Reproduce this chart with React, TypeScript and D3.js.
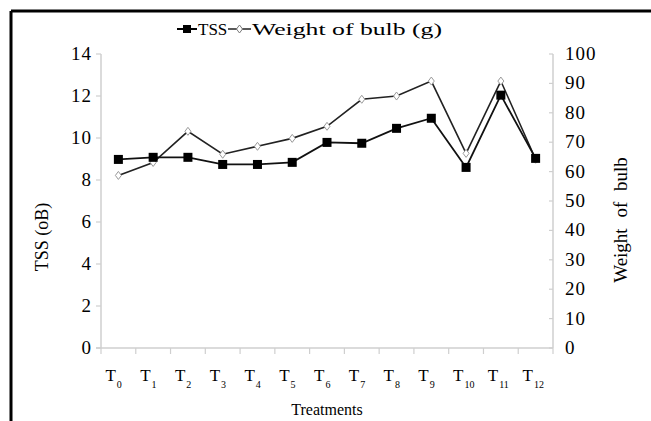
import React from "react";
import * as d3 from "d3";

const categories = ["0", "1", "2", "3", "4", "5", "6", "7", "8", "9", "10", "11", "12"];
const tssValues = [8.98, 9.08, 9.08, 8.74, 8.74, 8.84, 9.79, 9.75, 10.46, 10.94, 8.6, 12.04, 9.03];
const weightValues = [58.7, 63.1, 73.7, 65.9, 68.6, 71.3, 75.4, 84.6, 85.7, 90.8, 66.2, 90.8, 64.2];
const leftTicks = [0, 2, 4, 6, 8, 10, 12, 14];
const rightTicks = [0, 10, 20, 30, 40, 50, 60, 70, 80, 90, 100];

const W = 651;
const H = 421;
const plot = { left: 101, right: 553, top: 54, bottom: 348 };
const FONT = "'Liberation Serif', 'Times New Roman', serif";

export default function App() {
  const x = d3.scaleBand<string>().domain(categories).range([plot.left, plot.right]).padding(0);
  const yL = d3.scaleLinear().domain([0, 14]).range([plot.bottom, plot.top]);
  const yR = d3.scaleLinear().domain([0, 100]).range([plot.bottom, plot.top]);
  const cx = (c: string) => (x(c) as number) + x.bandwidth() / 2;

  const tssLine = d3.line<number>().x((_, i) => cx(categories[i])).y((d) => yL(d));
  const wLine = d3.line<number>().x((_, i) => cx(categories[i])).y((d) => yR(d));

  const axisColor = "#cfcfcf";
  const diamond = (px: number, py: number, r: number) =>
    `M${px},${py - r}L${px + r * 0.75},${py}L${px},${py + r}L${px - r * 0.75},${py}Z`;

  const boundaries = categories.map((c) => x(c) as number).concat([plot.right]);
  const ts = { fontFamily: FONT } as React.CSSProperties;

  return (
    <svg width={W} height={H} style={{ position: "absolute", left: 0, top: 0, background: "#fff" }}>
      <rect x={0} y={0} width={W} height={H} fill="#fff" />
      {/* outer frame (top and left) */}
      <line x1={11} y1={11} x2={W} y2={11} stroke="#000" strokeWidth={3} />
      <line x1={11} y1={11} x2={11} y2={H} stroke="#000" strokeWidth={3} />

      {/* legend */}
      <g>
        <line x1={177} x2={197} y1={29} y2={29} stroke="#000" strokeWidth={2} />
        <rect x={183} y={25} width={8} height={8} fill="#000" />
        <text x={198} y={35} fontSize={17} style={ts}>TSS</text>
        <line x1={228} x2={251} y1={29} y2={29} stroke="#222" strokeWidth={1.5} />
        <path d={diamond(239.5, 29, 4)} fill="#fff" stroke="#777" strokeWidth={1} />
        <text x={252} y={35} fontSize={17} style={ts} textLength={190} lengthAdjust="spacingAndGlyphs">Weight of bulb (g)</text>
      </g>

      {/* axes */}
      <line x1={plot.left} x2={plot.left} y1={plot.top} y2={plot.bottom} stroke={axisColor} strokeWidth={1.5} />
      <line x1={plot.right} x2={plot.right} y1={plot.top} y2={plot.bottom} stroke={axisColor} strokeWidth={1.5} />
      <line x1={plot.left - 5} x2={plot.right} y1={plot.bottom} y2={plot.bottom} stroke={axisColor} strokeWidth={1.5} />
      {leftTicks.map((t) => (
        <g key={"l" + t}>
          <line x1={plot.left - 5} x2={plot.left} y1={yL(t)} y2={yL(t)} stroke={axisColor} strokeWidth={1.2} />
          <text x={plot.left - 9} y={yL(t) + 6} fontSize={19} style={ts} textAnchor="end" letterSpacing={1}>{t}</text>
        </g>
      ))}
      {rightTicks.map((t) => (
        <g key={"r" + t}>
          <line x1={plot.right - 4} x2={plot.right} y1={yR(t)} y2={yR(t)} stroke={axisColor} strokeWidth={1.2} />
          <text x={plot.right + 12} y={yR(t) + 6} fontSize={19} style={ts} textAnchor="start" letterSpacing={1}>{t}</text>
        </g>
      ))}
      {boundaries.map((b, i) => (
        <line key={"xt" + i} x1={b} x2={b} y1={plot.bottom} y2={plot.bottom + 6} stroke={axisColor} strokeWidth={1.2} />
      ))}
      {categories.map((c) => (
        <text key={"xl" + c} x={cx(c) - 13} y={381} fontSize={17} style={ts}>
          T<tspan fontSize={10} dx={1} dy={7}>{c}</tspan>
        </text>
      ))}

      {/* axis titles */}
      <text x={327} y={415} fontSize={16} style={ts} textAnchor="middle">Treatments</text>
      <text transform={`translate(48,237) rotate(-90)`} fontSize={18} style={ts} textAnchor="middle">TSS (oB)</text>
      <text transform={`translate(627,220) rotate(-90)`} fontSize={19} style={ts} textAnchor="middle" wordSpacing={6}>Weight of bulb</text>

      {/* series */}
      <path d={wLine(weightValues) || ""} fill="none" stroke="#222" strokeWidth={1.6} />
      <path d={tssLine(tssValues) || ""} fill="none" stroke="#111" strokeWidth={1.8} />
      {weightValues.map((v, i) => (
        <path key={"wd" + i} d={diamond(cx(categories[i]), yR(v), 4)} fill="#fff" stroke="#999" strokeWidth={1} />
      ))}
      {tssValues.map((v, i) => (
        <rect key={"ts" + i} x={cx(categories[i]) - 4.5} y={yL(v) - 4.5} width={9} height={9} fill="#000" />
      ))}
    </svg>
  );
}
